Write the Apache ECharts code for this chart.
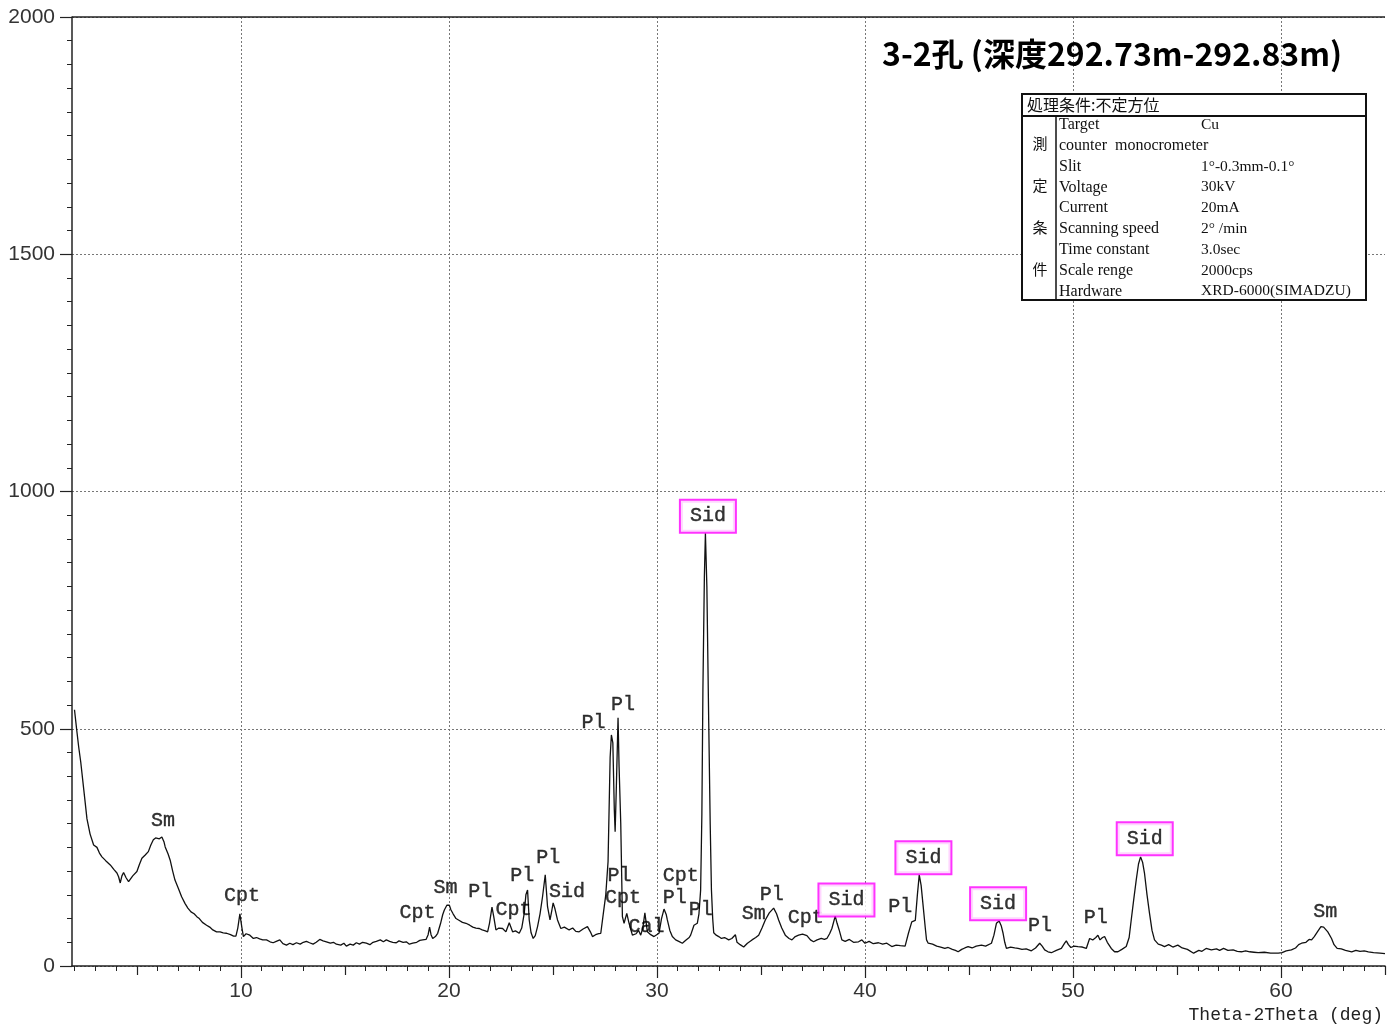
<!DOCTYPE html>
<html>
<head>
<meta charset="utf-8">
<title>3-2孔 XRD</title>
<script src="https://cdn.jsdelivr.net/npm/echarts@6.0.0/dist/echarts.min.js"></script>
<style>
  html, body { margin: 0; padding: 0; background: #ffffff; }
  #chart { width: 1387px; height: 1025px; }
</style>
</head>
<body>
<div id="chart"></div>
<script>
// Diffraction pattern: 2θ (deg) and intensity (cps)
const twoTheta = [
  2.00, 2.10, 2.20, 2.30, 2.45, 2.60, 2.75, 2.92, 3.08, 3.20, 3.32, 3.50, 3.72, 3.90, 4.04, 4.12, 4.20, 4.28, 4.36, 4.48,
  4.60, 4.80, 5.00, 5.12, 5.24, 5.40, 5.55, 5.67, 5.79, 5.90, 5.96, 6.08, 6.20, 6.30, 6.36, 6.50, 6.60, 6.72, 6.83, 7.00,
  7.15, 7.31, 7.45, 7.60, 7.75, 7.88, 8.00, 8.15, 8.35, 8.50, 8.65, 8.83, 9.00, 9.15, 9.31, 9.50, 9.65, 9.76, 9.85, 9.95,
  10.05, 10.12, 10.25, 10.43, 10.60, 10.75, 10.90, 11.05, 11.23, 11.40, 11.55, 11.70, 11.87, 12.02, 12.19, 12.35, 12.50, 12.67, 12.85, 13.00,
  13.15, 13.30, 13.47, 13.62, 13.79, 13.95, 14.11, 14.30, 14.45, 14.59, 14.80, 14.95, 15.07, 15.25, 15.40, 15.55, 15.70, 15.85, 16.03, 16.20,
  16.35, 16.51, 16.70, 16.85, 16.99, 17.15, 17.30, 17.47, 17.60, 17.80, 17.95, 18.10, 18.26, 18.45, 18.60, 18.74, 18.90, 19.00, 19.07, 19.14,
  19.22, 19.35, 19.46, 19.60, 19.70, 19.78, 19.90, 20.02, 20.10, 20.20, 20.34, 20.50, 20.65, 20.82, 21.00, 21.15, 21.30, 21.46, 21.60, 21.75,
  21.86, 21.95, 22.07, 22.15, 22.26, 22.40, 22.58, 22.74, 22.90, 23.06, 23.20, 23.38, 23.50, 23.62, 23.70, 23.78, 23.86, 23.95, 24.05, 24.15,
  24.26, 24.38, 24.50, 24.63, 24.70, 24.74, 24.86, 24.95, 25.01, 25.10, 25.22, 25.38, 25.55, 25.78, 25.95, 26.10, 26.26, 26.45, 26.66, 26.80,
  26.90, 27.05, 27.20, 27.30, 27.42, 27.54, 27.65, 27.75, 27.81, 27.88, 27.95, 27.99, 28.05, 28.13, 28.18, 28.26, 28.34, 28.42, 28.55, 28.66,
  28.82, 29.00, 29.12, 29.22, 29.32, 29.42, 29.54, 29.70, 29.86, 30.10, 30.22, 30.34, 30.45, 30.50, 30.62, 30.74, 30.90, 31.05, 31.22, 31.40,
  31.55, 31.62, 31.72, 31.78, 31.94, 32.02, 32.10, 32.16, 32.21, 32.28, 32.33, 32.40, 32.49, 32.56, 32.62, 32.68, 32.73, 32.85, 32.97, 33.10,
  33.25, 33.45, 33.60, 33.77, 33.85, 34.00, 34.17, 34.35, 34.57, 34.75, 34.89, 35.05, 35.21, 35.40, 35.61, 35.75, 35.85, 36.00, 36.17, 36.35,
  36.49, 36.65, 36.81, 37.00, 37.21, 37.38, 37.53, 37.70, 37.90, 38.05, 38.17, 38.30, 38.41, 38.57, 38.66, 38.76, 38.89, 39.05, 39.25, 39.45,
  39.69, 39.85, 40.00, 40.20, 40.40, 40.65, 40.85, 41.05, 41.29, 41.50, 41.70, 41.93, 42.09, 42.25, 42.33, 42.42, 42.52, 42.61, 42.70, 42.80,
  42.90, 42.96, 43.04, 43.25, 43.45, 43.64, 43.84, 44.00, 44.20, 44.35, 44.48, 44.65, 44.80, 44.96, 45.15, 45.35, 45.60, 45.80, 46.08, 46.20,
  46.32, 46.45, 46.55, 46.64, 46.72, 46.80, 47.00, 47.20, 47.36, 47.55, 47.75, 48.00, 48.20, 48.40, 48.52, 48.64, 48.80, 48.96, 49.20, 49.44,
  49.60, 49.68, 49.78, 49.90, 50.05, 50.24, 50.45, 50.64, 50.80, 50.95, 51.10, 51.20, 51.30, 51.42, 51.52, 51.65, 51.84, 52.00, 52.16, 52.35,
  52.56, 52.70, 52.80, 52.92, 53.04, 53.15, 53.25, 53.35, 53.44, 53.56, 53.68, 53.80, 53.92, 54.10, 54.25, 54.40, 54.60, 54.80, 55.04, 55.25,
  55.50, 55.80, 56.05, 56.20, 56.40, 56.65, 56.90, 57.05, 57.24, 57.45, 57.70, 57.90, 58.10, 58.30, 58.50, 58.70, 58.90, 59.20, 59.50, 59.87,
  60.05, 60.25, 60.50, 60.70, 60.85, 60.99, 61.20, 61.35, 61.47, 61.60, 61.75, 61.92, 62.05, 62.11, 62.25, 62.43, 62.55, 62.70, 62.90, 63.10,
  63.40, 63.60, 63.80, 64.00, 64.20, 64.45, 64.76, 65.00
];
const counts = [
  540, 500, 462, 430, 370, 310, 278, 255, 250, 238, 230, 222, 213, 203, 196, 188, 175, 190, 197, 186,
  178, 190, 199, 214, 227, 234, 241, 255, 266, 270, 272, 268, 272, 262, 251, 236, 223, 200, 181, 163,
  146, 132, 122, 114, 110, 104, 100, 92, 86, 82, 76, 72, 72, 70, 69, 66, 63, 63, 80, 110,
  80, 62, 68, 65, 58, 60, 57, 55, 55, 51, 49, 52, 55, 47, 44, 48, 45, 49, 46, 50,
  52, 49, 46, 50, 56, 53, 51, 48, 50, 46, 44, 48, 42, 46, 44, 49, 46, 50, 48, 45,
  50, 52, 55, 51, 55, 52, 50, 49, 53, 50, 51, 46, 48, 50, 54, 55, 56, 66, 82, 66,
  58, 62, 69, 90, 108, 118, 128, 128, 118, 110, 100, 96, 92, 90, 86, 82, 80, 79, 76, 74,
  72, 90, 124, 105, 76, 80, 79, 72, 91, 72, 74, 69, 80, 111, 150, 160, 97, 70, 58, 64,
  83, 110, 146, 192, 150, 125, 97, 118, 133, 120, 97, 79, 82, 76, 80, 73, 72, 78, 83, 72,
  62, 66, 68, 69, 110, 150, 220, 440, 487, 470, 330, 283, 380, 523, 420, 301, 104, 90, 111, 90,
  65, 68, 75, 65, 80, 112, 72, 66, 62, 69, 100, 120, 108, 97, 75, 62, 55, 52, 48, 55,
  60, 65, 78, 86, 90, 110, 160, 320, 582, 820, 912, 800, 512, 300, 160, 100, 70, 65, 62, 58,
  60, 55, 58, 66, 50, 45, 40, 48, 55, 60, 65, 80, 97, 112, 122, 110, 97, 80, 65, 58,
  55, 62, 65, 67, 64, 55, 51, 55, 58, 56, 58, 68, 79, 105, 90, 76, 55, 52, 56, 50,
  51, 55, 48, 52, 47, 49, 46, 48, 41, 44, 43, 42, 69, 93, 97, 96, 150, 192, 170, 125,
  80, 55, 48, 46, 42, 40, 37, 39, 35, 33, 30, 35, 38, 41, 38, 42, 44, 42, 48, 65,
  90, 95, 85, 69, 50, 37, 40, 38, 37, 35, 36, 32, 38, 48, 42, 34, 30, 28, 33, 37,
  48, 53, 45, 39, 42, 41, 40, 37, 58, 55, 60, 65, 55, 60, 62, 50, 37, 30, 30, 35,
  41, 60, 97, 140, 181, 215, 230, 218, 195, 150, 111, 75, 55, 46, 44, 41, 45, 40, 44, 38,
  35, 27, 33, 31, 37, 34, 36, 33, 37, 33, 34, 31, 30, 32, 30, 29, 28, 29, 27, 27,
  28, 32, 34, 38, 45, 48, 50, 56, 55, 62, 72, 83, 82, 81, 72, 58, 45, 37, 36, 33,
  30, 33, 31, 32, 30, 28, 27, 26
];

// Phase identifications: [name, 2θ, label height in cps]
const phaseLabels = [
  ['Sm', 6.26, 306], ['Cpt', 10.05, 148], ['Cpt', 18.49, 112], ['Sm', 19.83, 166],
  ['Pl', 21.51, 156], ['Cpt', 23.1, 118], ['Pl', 23.53, 190], ['Pl', 24.77, 228],
  ['Sid', 25.68, 157], ['Pl', 26.95, 512], ['Pl', 28.37, 550], ['Pl', 28.2, 191],
  ['Cpt', 28.37, 143], ['Cal', 29.5, 82], ['Cpt', 31.15, 190], ['Pl', 30.86, 143],
  ['Pl', 32.11, 118], ['Sm', 34.65, 110], ['Pl', 35.52, 150], ['Cpt', 37.15, 101],
  ['Pl', 41.7, 124], ['Pl', 48.42, 84], ['Pl', 51.1, 101], ['Sm', 62.13, 114]
];
// Siderite reflections (boxed): [name, 2θ, label height in cps]
const sideriteLabels = [
  ['Sid', 32.45, 948], ['Sid', 39.11, 139], ['Sid', 42.81, 228], ['Sid', 46.4, 131], ['Sid', 53.45, 268]
];

// Axis ticks
const xLabelTicks = [10, 20, 30, 40, 50, 60];
const xHalfTicks = [5, 15, 25, 35, 45, 55, 65];
const xUnitTicks = [];
for (let d = 2; d <= 65; d++) xUnitTicks.push(d);
const yLabelTicks = ['0', '500', '1000', '1500', '2000'];

// Measurement conditions table
const condTitle = '処理条件:不定方位';
const condSide = ['測', '定', '条', '件'];
const condNames = ['Target', 'counter  monocrometer', 'Slit', 'Voltage', 'Current', 'Scanning speed', 'Time constant', 'Scale renge', 'Hardware'];
const condValues = ['Cu', '', '1°-0.3mm-0.1°', '30kV', '20mA', '2° /min', '3.0sec', '2000cps', 'XRD-6000(SIMADZU)'];

const chart = echarts.init(document.getElementById('chart'), null, { renderer: 'canvas' });

const lineData = twoTheta.map((t, i) => [t, counts[i]]);
const tickFont = { fontFamily: '"Liberation Sans Narrow", "Liberation Sans", Arial, sans-serif', fontSize: 21, color: '#333' };
const markFont = '"Liberation Mono", "DejaVu Sans Mono", monospace';

const xMin = 1.88, xMax = 65;

// Conditions table drawn as graphic elements
const tbl = { x: 1022, y: 94, w: 344, h: 206, head: 22, split: 34 };
const tableGraphics = [
  { type: 'rect', shape: { x: tbl.x, y: tbl.y, width: tbl.w, height: tbl.h }, style: { fill: '#fff', stroke: '#111', lineWidth: 2 }, z: 10 },
  { type: 'line', shape: { x1: tbl.x, y1: tbl.y + tbl.head, x2: tbl.x + tbl.w, y2: tbl.y + tbl.head }, style: { stroke: '#111', lineWidth: 2 }, z: 11 },
  { type: 'line', shape: { x1: tbl.x + tbl.split, y1: tbl.y + tbl.head, x2: tbl.x + tbl.split, y2: tbl.y + tbl.h }, style: { stroke: '#111', lineWidth: 1.5 }, z: 11 },
  { type: 'text', x: tbl.x + 5, y: tbl.y + 11, style: { text: condTitle, font: '16px "Noto Sans CJK JP"', fill: '#111', textVerticalAlign: 'middle' }, z: 12 }
];
condSide.forEach((c, i) => {
  tableGraphics.push({ type: 'text', x: tbl.x + 18, y: 143 + i * 42, style: { text: c, font: '15px "Noto Sans CJK JP"', fill: '#111', textAlign: 'center', textVerticalAlign: 'middle' }, z: 12 });
});
condNames.forEach((n, i) => {
  const yy = 125 + i * 20.8;
  tableGraphics.push({ type: 'text', x: tbl.x + 37, y: yy, style: { text: n, font: '16px "Liberation Serif", serif', fill: '#111', textVerticalAlign: 'middle' }, z: 12 });
  if (condValues[i]) {
    tableGraphics.push({ type: 'text', x: 1201, y: yy, style: { text: condValues[i], font: '15.5px "Liberation Serif", serif', fill: '#111', textVerticalAlign: 'middle' }, z: 12 });
  }
});
tableGraphics.push({
  type: 'text', x: 1383, y: 1015,
  style: { text: 'Theta-2Theta (deg)', font: '18px ' + markFont, fill: '#222', textAlign: 'right', textVerticalAlign: 'middle' }
});

const hiddenAxisParts = { axisLine: { show: false }, axisLabel: { show: false }, splitLine: { show: false } };
const markLabel = {
  show: true, position: 'inside', formatter: p => p.value[2],
  fontFamily: markFont, fontSize: 20, color: '#000', textBorderColor: '#000', textBorderWidth: 0.4
};

chart.setOption({
  animation: false,
  backgroundColor: '#ffffff',
  title: {
    text: '3-2孔 (深度292.73m-292.83m)',
    left: 877, top: 33,
    textStyle: { fontFamily: '"Noto Sans CJK JP", "Noto Sans CJK SC", sans-serif', fontWeight: 'bold', fontSize: 32, color: '#000' }
  },
  grid: { left: 72, right: 2, top: 17, bottom: 59, containLabel: false },
  xAxis: [
    {
      type: 'value', min: xMin, max: xMax, position: 'bottom',
      axisLine: { show: true, onZero: false, lineStyle: { color: '#222', width: 1.5 } },
      axisTick: { show: true, inside: false, length: 12, customValues: xLabelTicks, lineStyle: { color: '#222', width: 1.2 } },
      axisLabel: { show: true, customValues: xLabelTicks, margin: 15, ...tickFont },
      splitLine: { show: true, lineStyle: { color: '#777', type: [2, 2], width: 1 } }
    },
    {
      type: 'value', min: xMin, max: xMax, position: 'bottom', ...hiddenAxisParts,
      axisTick: { show: true, inside: false, length: 9, customValues: xHalfTicks, lineStyle: { color: '#222', width: 1.2 } }
    },
    {
      type: 'value', min: xMin, max: xMax, position: 'bottom', ...hiddenAxisParts,
      axisTick: { show: true, inside: false, length: 5, customValues: xUnitTicks, lineStyle: { color: '#222', width: 1 } }
    }
  ],
  yAxis: {
    type: 'value', min: 0, max: 2000, interval: 500,
    axisLine: { show: true, lineStyle: { color: '#222', width: 1.5 } },
    axisTick: { show: true, inside: false, length: 12, lineStyle: { color: '#222', width: 1.2 } },
    minorTick: { show: true, splitNumber: 10, length: 5, lineStyle: { color: '#222', width: 1 } },
    axisLabel: { margin: 17, formatter: v => yLabelTicks[Math.round(v / 500)], ...tickFont },
    splitLine: { show: true, lineStyle: { color: '#777', type: [2, 2], width: 1 } }
  },
  graphic: tableGraphics,
  series: [
    {
      type: 'line', xAxisIndex: 0, data: lineData, showSymbol: false, smooth: false,
      lineStyle: { color: '#111', width: 1.3 }, z: 3,
      markLine: {
        silent: true, symbol: 'none', label: { show: false },
        lineStyle: { color: '#222', type: 'solid', width: 1.5 },
        data: [{ yAxis: 2000 }]
      }
    },
    {
      type: 'scatter', xAxisIndex: 0, symbolSize: 0, z: 5,
      data: phaseLabels.map(p => [p[1], p[2], p[0]]),
      label: markLabel
    },
    {
      type: 'scatter', xAxisIndex: 0, symbolSize: 0, z: 6,
      data: sideriteLabels.map(p => [p[1], p[2], p[0]]),
      label: {
        ...markLabel, lineHeight: 20,
        backgroundColor: '#ffffff', borderColor: '#ff00ff', borderWidth: 2, padding: [6, 9, 5, 9]
      }
    }
  ]
});
</script>
</body>
</html>
